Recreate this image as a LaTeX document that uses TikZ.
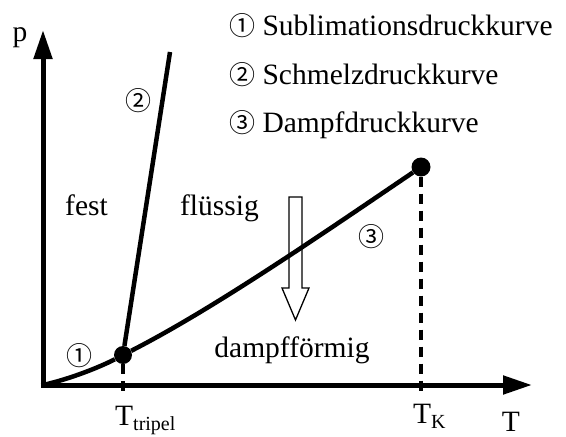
\documentclass[tikz,border=0pt]{standalone}
\usepackage{fontspec}
\setmainfont{Liberation Serif}
\newfontfamily\circfont{Noto Sans CJK SC}
\usetikzlibrary{arrows.meta}
\tikzset{
  axisline/.style={line width=5pt,-{Triangle[length=29pt,width=18pt]}},
  phasecurve/.style={line width=4.5pt},
  guideline/.style={line width=3.3pt,dash pattern=on 10pt off 7pt},
  pointdot/.style={circle,fill=black,inner sep=0pt,minimum size=18pt},
  regionlabel/.style={inner sep=0pt,anchor=base,font=\fontsize{29.5}{34}\selectfont},
  circlabel/.style={inner sep=0pt,font=\circfont\fontsize{26}{30}\selectfont},
  hollowarrow/.style={draw,line width=1.3pt,line join=miter},
}
\newcommand{\Tsub}[1]{T\raisebox{-5pt}{\fontsize{20}{20}\selectfont #1}}
\newcommand{\circnum}[1]{{\circfont\fontsize{26}{30}\selectfont #1}}

\begin{document}
\begin{tikzpicture}[x=1pt,y=-1pt]
  \useasboundingbox (0,0) rectangle (566,437);
  \coordinate (origin) at (43,385);
  \coordinate (pend) at (43,30);
  \coordinate (Tend) at (532,385);
  \coordinate (meltend) at (170,52);
  \coordinate (tripfoot) at (123,397);
  \coordinate (critfoot) at (421,392);
  \node[pointdot] (triple) at (123,355) {};
  \node[pointdot,minimum size=19pt] (crit) at (421,167) {};
  \draw[guideline] (triple) -- (tripfoot);
  \draw[guideline] (crit) -- (critfoot);
  \draw[axisline] ([xshift=-2.5pt]origin) -- (Tend);
  \draw[axisline] ([yshift=-2.5pt]origin) -- (pend);
  \draw[phasecurve] (origin) .. controls (70,379) and (100,367) .. (triple);
  \draw[phasecurve] (triple) -- (meltend);
  \draw[phasecurve] (triple) .. controls (215,308) and (325,232) .. (crit);
  \draw[hollowarrow] (289,197) -- (302,197) -- (302,288) -- (309,288) -- (295.5,320) -- (282,288) -- (289,288) -- cycle;
  \node[regionlabel] (fest) at (86.5,215) {fest};
  \node[regionlabel] (fluessig) at (219.5,215) {flüssig};
  \node[regionlabel] (dampf) at (292,357) {dampfförmig};
  \node[circlabel] (n1) at (79,356) {①};
  \node[circlabel] (n2) at (138,101) {②};
  \node[circlabel] (n3) at (371,237) {③};
  \node[regionlabel] (plabel) at (20,41.5) {p};
  \node[regionlabel] (Tlabel) at (511,431) {T};
  \node[regionlabel,anchor=base west] (Ttrip) at (115,425) {\Tsub{tripel}};
  \node[regionlabel,anchor=base west] (TK) at (413,423) {\Tsub{K}};
  \node[regionlabel,anchor=base west] (leg1) at (229,35) {\circnum{①} Sublimationsdruckkurve};
  \node[regionlabel,anchor=base west] (leg2) at (229,84) {\circnum{②} Schmelzdruckkurve};
  \node[regionlabel,anchor=base west] (leg3) at (229,132) {\circnum{③} Dampfdruckkurve};
\end{tikzpicture}
\end{document}
